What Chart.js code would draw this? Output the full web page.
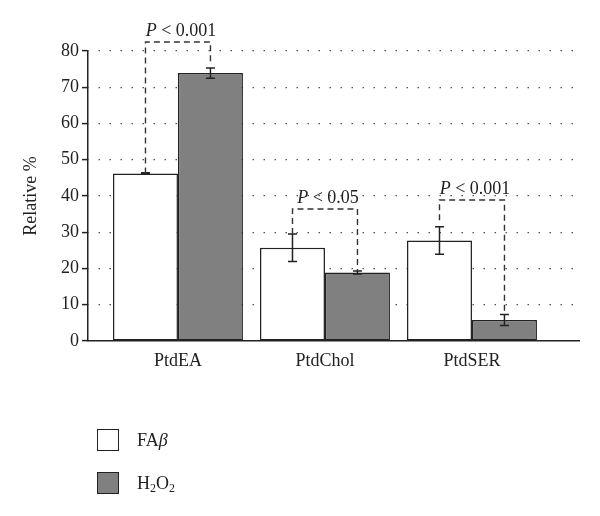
<!DOCTYPE html>
<html>
<head>
<meta charset="utf-8">
<script src="https://cdn.jsdelivr.net/npm/chart.js@4.4.1/dist/chart.umd.min.js"></script>
<style>
  html, body { margin: 0; padding: 0; background: #fff; }
  #wrap { position: relative; width: 600px; height: 516px; }
  canvas { position: absolute; left: 0; top: 0; }
  .legend { position: absolute; left: 97px; font-family: "Liberation Serif", serif; font-size: 18px; color: #222; }
  .legend .box { position: absolute; left: 0; top: 0; width: 20px; height: 20px; border: 1.5px solid #222; }
  .legend .txt { position: absolute; left: 40px; top: 0; line-height: 23px; white-space: nowrap; }
  .legend sub { font-size: 12px; vertical-align: -3px; line-height: 0; }
</style>
</head>
<body>
<div id="wrap">
  <canvas id="chart" width="600" height="516"></canvas>
  <div class="legend" style="top:429px"><div class="box" style="background:#fff"></div><div class="txt">FA<i>β</i></div></div>
  <div class="legend" style="top:472px"><div class="box" style="background:#808080"></div><div class="txt">H<sub>2</sub>O<sub>2</sub></div></div>
</div>
<script>
(function () {
    'use strict';

    // --- data ---
    const categories = ['PtdEA', 'PtdChol', 'PtdSER'];
    const faBeta     = [46.2, 25.7, 27.7];
    const faBetaErr  = [0.2, 3.8, 3.8];
    const h2o2       = [73.9, 18.9, 5.8];
    const h2o2Err    = [1.4, 0.4, 1.5];
    const yTicks     = [0, 10, 20, 30, 40, 50, 60, 70, 80];

    // significance brackets (y values in %)
    const pLabels      = ['0.001', '0.05', '0.001'];
    const bracketLevel = [82.5, 36.4, 38.9];
    const bracketLeft  = [46.2, 29.5, 33.3];
    const bracketRight = [77.0, 19.3, 7.2];

    const FONT = '"Liberation Serif", "Times New Roman", serif';
    const INK = '#222';

    const toPoints = (arr) => arr.map((v, i) => ({ x: i + 1, y: v }));

    const errorBars = {
        id: 'errorBars',
        afterDatasetsDraw(chart) {
            const { ctx, scales: { y } } = chart;
            const errs = [faBetaErr, h2o2Err];
            ctx.save();
            ctx.strokeStyle = INK;
            ctx.lineWidth = 1.5;
            chart.data.datasets.forEach((ds, di) => {
                chart.getDatasetMeta(di).data.forEach((bar, i) => {
                    const v = ds.data[i].y, e = errs[di][i];
                    const yHi = y.getPixelForValue(v + e);
                    const yLo = y.getPixelForValue(v - e);
                    const x = bar.x, cap = 4.5;
                    ctx.beginPath();
                    ctx.moveTo(x, yHi); ctx.lineTo(x, yLo);
                    ctx.moveTo(x - cap, yHi); ctx.lineTo(x + cap, yHi);
                    ctx.moveTo(x - cap, yLo); ctx.lineTo(x + cap, yLo);
                    ctx.stroke();
                });
            });
            ctx.restore();
        }
    };

    const brackets = {
        id: 'brackets',
        afterDatasetsDraw(chart) {
            const { ctx, scales: { y } } = chart;
            const left = chart.getDatasetMeta(0).data;
            const right = chart.getDatasetMeta(1).data;
            ctx.save();
            categories.forEach((c, i) => {
                const x1 = left[i].x, x2 = right[i].x;
                const yl = y.getPixelForValue(bracketLevel[i]);
                ctx.strokeStyle = '#333';
                ctx.lineWidth = 1.4;
                ctx.setLineDash([6, 4]);
                ctx.beginPath();
                ctx.moveTo(x1, y.getPixelForValue(bracketLeft[i]));
                ctx.lineTo(x1, yl);
                ctx.lineTo(x2, yl);
                ctx.lineTo(x2, y.getPixelForValue(bracketRight[i]));
                ctx.stroke();
                ctx.setLineDash([]);

                // "P < x" label, italic P
                const italic = 'italic 18px ' + FONT;
                const normal = '18px ' + FONT;
                const rest = ' < ' + pLabels[i];
                ctx.font = italic;
                const wP = ctx.measureText('P').width;
                ctx.font = normal;
                const wR = ctx.measureText(rest).width;
                const cx = (x1 + x2) / 2 + 3;
                const startX = cx - (wP + wR) / 2;
                ctx.fillStyle = INK;
                ctx.textBaseline = 'alphabetic';
                ctx.textAlign = 'left';
                ctx.font = italic;
                ctx.fillText('P', startX, yl - 6);
                ctx.font = normal;
                ctx.fillText(rest, startX + wP, yl - 6);
            });
            ctx.restore();
        }
    };

    new Chart(document.getElementById('chart').getContext('2d'), {
        type: 'bar',
        data: {
            datasets: [
                {
                    label: 'FAβ',
                    data: toPoints(faBeta),
                    backgroundColor: '#ffffff',
                    borderColor: INK,
                    borderWidth: 1.5,
                    borderSkipped: false
                },
                {
                    label: 'H2O2',
                    data: toPoints(h2o2),
                    backgroundColor: '#808080',
                    borderColor: INK,
                    borderWidth: 1.5,
                    borderSkipped: false
                }
            ]
        },
        options: {
            responsive: false,
            animation: false,
            categoryPercentage: 0.884,
            barPercentage: 1,
            layout: { padding: { left: 0, top: 51, right: 21, bottom: 0 } },
            plugins: { legend: { display: false }, tooltip: { enabled: false } },
            scales: {
                x: {
                    type: 'linear',
                    min: 0.388,
                    max: 3.728,
                    offset: false,
                    afterBuildTicks: (s) => { s.ticks = categories.map((c, i) => ({ value: i + 1 })); },
                    afterFit: (s) => { s.height = 175; },
                    ticks: {
                        color: INK,
                        padding: 9,
                        font: { family: FONT, size: 18 },
                        callback: (v) => categories[v - 1] || ''
                    },
                    grid: { display: false, drawTicks: false },
                    border: { color: INK, width: 1.5 }
                },
                y: {
                    min: 0,
                    max: 80,
                    afterBuildTicks: (s) => { s.ticks = yTicks.map((v) => ({ value: v })); },
                    afterFit: (s) => { s.width = 88; },
                    ticks: {
                        color: INK,
                        padding: 3,
                        font: { family: FONT, size: 18 }
                    },
                    title: {
                        display: true,
                        text: 'Relative %',
                        color: INK,
                        font: { family: FONT, size: 18 },
                        padding: { top: 20, bottom: 0 }
                    },
                    grid: {
                        color: (c) => (c.tick && c.tick.value === 0 ? 'rgba(0,0,0,0)' : '#555'),
                        lineWidth: 1.2,
                        tickColor: INK,
                        tickLength: 6,
                        tickWidth: 1.5
                    },
                    border: { color: INK, width: 1.5, dash: [1.5, 9.5], dashOffset: -10 }
                }
            }
        },
        plugins: [errorBars, brackets]
    });
})();
</script>
</body>
</html>
